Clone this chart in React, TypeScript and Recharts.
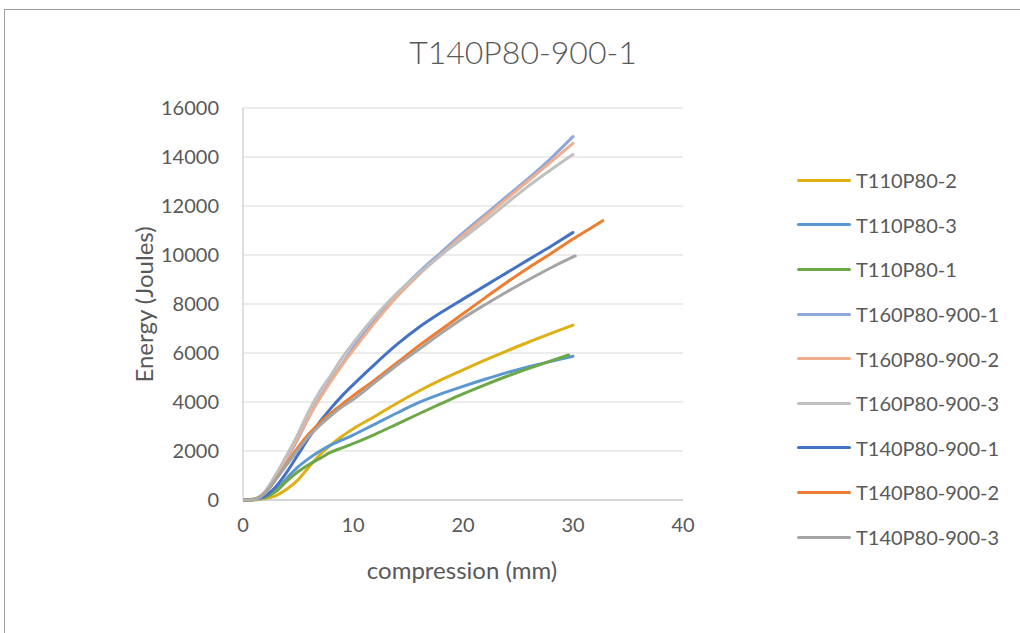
import React from 'react';
import { LineChart, Line, XAxis, YAxis, CartesianGrid } from 'recharts';

const mmCommon = [0, 1, 2, 3, 4, 5, 6, 7, 8, 9, 10, 12, 14, 16, 18, 20, 22, 24, 26, 28, 30];
const mmT110_1 = [0, 1, 2, 3, 4, 5, 6, 7, 8, 9, 10, 12, 14, 16, 18, 20, 22, 24, 26, 28, 29.6];
const mmT140_2 = [0, 1, 2, 3, 4, 5, 6, 7, 8, 9, 10, 12, 14, 16, 18, 20, 22, 24, 26, 28, 30, 32, 32.7];
const mmT140_3 = [0, 1, 2, 3, 4, 5, 6, 7, 8, 9, 10, 12, 14, 16, 18, 20, 22, 24, 26, 28, 30.2];

const t110_2 = [0, 5, 50, 180, 450, 820, 1350, 1850, 2250, 2600, 2900, 3420, 3950, 4450, 4900, 5310, 5710, 6090, 6450, 6800, 7140];
const t110_3 = [0, 20, 120, 400, 900, 1350, 1700, 2000, 2250, 2450, 2650, 3100, 3550, 3980, 4330, 4640, 4930, 5200, 5440, 5660, 5870];
const t110_1 = [0, 15, 100, 350, 780, 1150, 1450, 1700, 1950, 2130, 2300, 2680, 3100, 3520, 3930, 4330, 4700, 5050, 5370, 5680, 5920];
const t160_1 = [0, 30, 280, 900, 1700, 2500, 3400, 4200, 4900, 5550, 6200, 7350, 8400, 9300, 10100, 10900, 11650, 12400, 13150, 13950, 14830];
const t160_2 = [0, 30, 300, 950, 1750, 2550, 3400, 4150, 4850, 5500, 6100, 7250, 8300, 9200, 10000, 10800, 11550, 12300, 13050, 13800, 14560];
const t160_3 = [0, 40, 350, 1050, 1850, 2700, 3650, 4450, 5100, 5800, 6400, 7500, 8450, 9250, 10000, 10680, 11380, 12120, 12830, 13480, 14100];
const t140_1 = [0, 20, 150, 550, 1150, 1850, 2550, 3200, 3750, 4250, 4700, 5550, 6350, 7050, 7650, 8200, 8740, 9280, 9820, 10360, 10920];
const t140_2 = [0, 30, 280, 850, 1500, 2150, 2700, 3150, 3550, 3900, 4250, 4900, 5600, 6300, 6950, 7600, 8250, 8890, 9490, 10060, 10650, 11200, 11400];
const t140_3 = [0, 30, 280, 850, 1450, 2050, 2600, 3050, 3450, 3800, 4100, 4800, 5500, 6150, 6800, 7420, 7970, 8500, 9000, 9480, 9960];

const xTicks = [0, 10, 20, 30, 40];
const yTicks = [0, 2000, 4000, 6000, 8000, 10000, 12000, 14000, 16000];

const zip = (xs: number[], ys: number[]) => xs.map((x, i) => ({ x, y: ys[i] }));

const series = [
  { name: 'T110P80-2', color: '#DEB015', data: zip(mmCommon, t110_2) },
  { name: 'T110P80-3', color: '#5B98D0', data: zip(mmCommon, t110_3) },
  { name: 'T110P80-1', color: '#6DA848', data: zip(mmT110_1, t110_1) },
  { name: 'T160P80-900-1', color: '#8FA8DA', data: zip(mmCommon, t160_1) },
  { name: 'T160P80-900-2', color: '#EFAE8E', data: zip(mmCommon, t160_2) },
  { name: 'T160P80-900-3', color: '#C0C0C0', data: zip(mmCommon, t160_3) },
  { name: 'T140P80-900-1', color: '#4472C4', data: zip(mmCommon, t140_1) },
  { name: 'T140P80-900-2', color: '#ED7D31', data: zip(mmT140_2, t140_2) },
  { name: 'T140P80-900-3', color: '#A5A5A5', data: zip(mmT140_3, t140_3) },
];

const FONT = 'Lato, "Open Sans", sans-serif';
const TEXT = '#595959';

export default function App() {
  return (
    <div style={{ position: 'absolute', left: 0, top: 0, width: 1020, height: 633, background: '#fff', overflow: 'hidden' }}>
      <div style={{ position: 'absolute', left: 4, top: 9, width: 1016, height: 624, borderTop: '1px solid #A0A0A0', borderLeft: '1px solid #A0A0A0' }} />
      <div style={{ position: 'absolute', left: 0, top: 0 }}>
        <LineChart width={1020} height={633} margin={{ top: 108, right: 337, bottom: 103, left: 163 }}>
          <CartesianGrid vertical={false} stroke="#D9D9D9" strokeWidth={1} />
          <XAxis
            dataKey="x"
            type="number"
            domain={[0, 40]}
            ticks={xTicks}
            allowDataOverflow
            height={30}
            tickSize={0}
            tickMargin={18}
            axisLine={{ stroke: '#BFBFBF' }}
            tickLine={false}
            tick={{ fontSize: 20, fill: TEXT, fontFamily: FONT }}
          />
          <YAxis
            dataKey="y"
            type="number"
            domain={[0, 16000]}
            ticks={yTicks}
            width={80}
            tickSize={0}
            tickMargin={24}
            axisLine={{ stroke: '#BFBFBF' }}
            tickLine={false}
            tick={{ fontSize: 20, fill: TEXT, fontFamily: FONT }}
          />
          {series.map((s) => (
            <Line
              key={s.name}
              data={s.data}
              dataKey="y"
              name={s.name}
              type="monotone"
              stroke={s.color}
              strokeWidth={3}
              dot={false}
              isAnimationActive={false}
              strokeLinecap="round"
            />
          ))}
        </LineChart>
      </div>
      <div style={{ position: 'absolute', left: 797, top: 158, fontFamily: FONT }}>
        {series.map((s) => (
          <div key={s.name} style={{ display: 'flex', alignItems: 'center', height: 44.6 }}>
            <div style={{ width: 54, height: 3, background: s.color, borderRadius: 2, marginRight: 5 }} />
            <span style={{ fontSize: 20, color: TEXT }}>{s.name}</span>
          </div>
        ))}
      </div>
      <div style={{ position: 'absolute', left: 323, width: 400, top: 32, textAlign: 'center', fontFamily: FONT, fontSize: 32, color: TEXT, fontWeight: 300 }}>
        T140P80-900-1
      </div>
      <div style={{ position: 'absolute', left: 262, width: 400, top: 555, textAlign: 'center', fontFamily: FONT, fontSize: 24, color: TEXT }}>
        compression (mm)
      </div>
      <div style={{ position: 'absolute', left: 143, top: 305, width: 0, height: 0 }}>
        <div style={{ position: 'absolute', left: -150, top: -15, width: 300, textAlign: 'center', fontFamily: FONT, fontSize: 24, color: TEXT, transform: 'rotate(-90deg)', whiteSpace: 'nowrap' }}>
          Energy (Joules)
        </div>
      </div>
    </div>
  );
}
